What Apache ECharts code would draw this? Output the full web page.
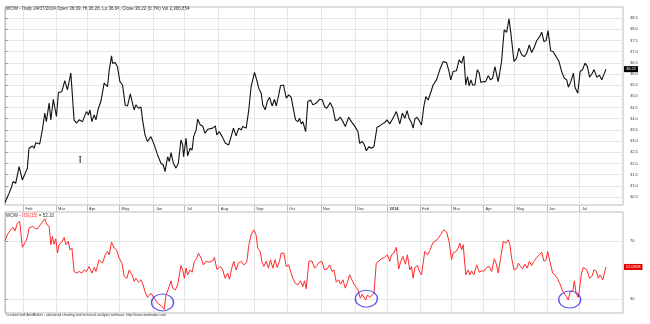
<!DOCTYPE html>
<html><head><meta charset="utf-8">
<script src="https://cdn.jsdelivr.net/npm/echarts@6/dist/echarts.min.js"></script>
<style>html,body{margin:0;padding:0;background:#fff}#c{width:650px;height:324px}</style>
</head><body><div id="c"></div>
<script>
// month starts, in trading days from the first bar
const monthDays = [12,33,53,74,96,116,138,161,182,204,226,247,268,288,309,329,350,371];
const monthLabels = ['Feb','Mar','Apr','May','Jun','Jul','Aug','Sep','Oct','Nov','Dec','2014','Feb','Mar','Apr','May','Jun','Jul'];
const priceTicks = [30.5,31,31.5,32,32.5,33,33.5,34,34.5,35,35.5,36,36.5,37,37.5,38,38.5];
const rsiTicks = [30,70];
// [trading day, close]
const price = [[0,30.25],[2.6,30.66],[4.3,30.96],[5.2,31.19],[6.9,31.11],[9.1,31.86],[11.2,31.26],[14.4,31.78],[15.5,32.68],[17.7,32.78],[18.8,32.68],[19.9,32.93],[22.4,32.87],[24.1,33.5],[25.7,34.25],[26.7,33.87],[28.5,34.7],[29.6,33.95],[31.2,34.87],[33.2,34.1],[34.5,35.17],[36.7,35.21],[38.6,35.71],[40.3,35.29],[41.4,35.21],[42.5,36.04],[44.6,33.95],[46.1,33.8],[47.9,33.95],[50,33.87],[52.6,34.32],[53.9,34.17],[54.8,34.4],[56.1,33.87],[57.6,34.17],[58.7,33.95],[60.3,34.47],[61.9,34.77],[64,35.59],[66.2,35.44],[67.3,36.19],[68.8,36.81],[69.4,36.49],[71.2,36.51],[72.6,36.33],[74.2,35.66],[75.9,35.51],[77.6,34.62],[79.1,34.57],[80.9,35.11],[82.3,34.7],[83.4,34.4],[84.5,34.62],[86.2,34.47],[87.8,34.52],[88.8,33.95],[90.4,33.28],[92,32.98],[94.2,33.2],[96.4,32.83],[98.5,32.38],[100.7,32.01],[102.2,31.93],[103.3,31.63],[105,32.3],[106.1,32.08],[107.2,32.48],[108.7,32.01],[110.4,31.79],[111.9,32.01],[113.6,33.05],[114.7,32.83],[115.3,32.3],[116.9,33.13],[117.9,32.34],[119.5,32.68],[120.8,32.6],[121.8,33.2],[123.4,33.5],[124.4,33.98],[126.1,33.72],[127.6,33.68],[129.2,33.35],[130.9,33.53],[134.1,33.58],[135.8,33.68],[136.7,33.28],[138.4,33.42],[140.2,33.2],[142.3,32.9],[144.4,32.83],[146,33.2],[147.5,33.58],[149.2,33.23],[150.9,33.58],[152.5,33.5],[153.5,33.65],[155.7,33.58],[157.4,34.4],[158.9,35.44],[161.1,36.07],[162.5,35.74],[163.8,35.37],[165.4,35.14],[166.4,34.62],[168,34.4],[169.3,34.77],[170.8,34.96],[172.5,34.57],[174,34.87],[175.1,34.57],[176.6,35.02],[177.9,35.48],[179.8,35.51],[181.6,34.92],[183.2,35.07],[184.8,34.96],[186.3,34.4],[187.6,33.95],[189.1,33.87],[190.2,34.02],[191.3,33.77],[192.3,33.87],[194.1,33.42],[195.5,34.77],[197.3,34.84],[198.8,34.62],[201,34.7],[203.1,34.87],[204.9,34.84],[206.3,34.54],[207.8,34.47],[210,34.72],[211.7,34.47],[213.3,33.92],[215,33.95],[216.5,34.07],[218.2,33.87],[219.7,33.65],[221.9,34.07],[223.6,33.87],[225.7,33.68],[227.9,33.42],[229,32.9],[230.7,32.98],[231.8,32.87],[233.3,32.57],[235,32.75],[236.5,32.68],[238.2,32.75],[240.2,33.62],[241.9,33.68],[243.7,33.77],[245.1,33.83],[246.6,33.95],[248.4,33.77],[250.1,33.98],[251.6,34.17],[252.7,34.32],[254.9,33.77],[256.6,34.25],[258.1,34.02],[259.6,34.36],[260.9,34.02],[262.4,33.83],[263.5,33.58],[264.6,33.98],[266,34.07],[267.1,33.95],[268.9,33.72],[270.4,34.54],[271.7,34.99],[273.2,34.84],[274.7,35.14],[276.4,35.51],[278.6,35.74],[280.7,36.19],[282.9,36.56],[285.1,36.51],[286.7,36.11],[287.8,35.74],[289.3,36.11],[291.5,36.15],[293.2,36.63],[294.8,36.49],[296.2,36.81],[297.5,35.51],[298.6,35.89],[299.7,35.47],[300.8,35.74],[301.9,35.51],[303.4,35.51],[304.9,36.19],[306.2,36.04],[307.2,35.62],[308.7,35.66],[310.3,35.66],[312,35.92],[313.5,35.74],[314.8,35.81],[316.3,36.33],[318.4,35.66],[320.6,36.56],[322.3,37.98],[323.9,37.87],[325.4,38.47],[326.6,37.83],[328.6,36.56],[330.3,36.71],[331.8,37.16],[333.6,36.86],[335.3,36.78],[336.8,36.93],[338.5,37.3],[340,36.96],[341.5,37.16],[343.3,37.5],[345,37.65],[346.5,37.87],[348,37.45],[349.3,37.5],[350.6,37.94],[352.3,37.04],[354,37.0],[355.8,36.78],[357.7,36.56],[359.4,36.11],[361.1,35.81],[362.7,35.74],[363.7,35.41],[365.3,35.66],[367,36.04],[368,35.41],[369.8,35.14],[371.3,36.11],[372.8,36.19],[374.5,36.49],[376,36.33],[377.4,35.86],[378.9,36.0],[380.3,36.2],[382.1,35.85],[383.8,35.95],[385.3,35.74],[388,36.22]];
// [trading day, RSI(15)]
const rsi = [[0,70],[1.5,74.1],[3.7,77.5],[5.2,79.2],[6.5,76.9],[8,82.1],[9.5,83.3],[11.2,65.5],[13.4,69.6],[14.4,72.3],[15.5,78.7],[17.7,79.9],[19.2,78.7],[20.9,78.2],[23.1,81.5],[24.1,81],[25.7,85.1],[27,81],[28.5,79.9],[29.6,67.3],[30.6,73],[31.7,67.7],[32.8,71.4],[33.9,61.6],[34.9,67.3],[36.7,69.1],[38.2,72.3],[39.3,67.3],[40.9,69.6],[41.9,63.8],[43.2,65],[44.6,49],[46.1,47.9],[47.9,49],[49.6,47.9],[51.1,50.1],[52.6,49],[54.3,52.4],[56.1,47.9],[57.6,51.8],[58.7,49],[60.8,57],[62.9,54.7],[64.7,60.4],[66.2,62.7],[67.3,60.4],[68.8,69.1],[70.5,65],[72,63.8],[73.7,58.1],[75.5,54.7],[77,45.6],[78.7,44.4],[80.2,50.1],[82,46.7],[83.4,42.2],[84.5,44.4],[86.2,41.7],[87.8,43.3],[88.8,41],[90.4,35.3],[92,31.2],[94.2,34.1],[96.4,30.7],[98.5,27.3],[100.7,25.7],[102.8,23.2],[103.9,32.6],[105,35.7],[106.1,35.3],[107.2,42.6],[108.2,37.6],[110,36.4],[111.5,39.8],[113.6,53.1],[114.7,50.1],[115.8,44.4],[116.9,51.3],[117.9,46.7],[119.5,50.1],[120.8,48.5],[122.3,55.9],[123.8,58.1],[124.9,61.6],[126.6,58.1],[128.1,53.5],[129.8,55.9],[131.9,55.4],[134.1,56.3],[135.2,58.6],[136.8,50.5],[139.1,52.4],[140.6,50.1],[142.1,44.4],[143.8,47.9],[144.9,43.7],[146.4,51.3],[147.7,55.9],[149.2,50.1],[150.7,54.7],[152.5,55.9],[154.1,53.5],[156.1,55.4],[157.4,66.8],[158.9,74.1],[160.6,77.5],[162.1,74.1],[163.2,65],[164.8,62.7],[165.8,55.9],[167.1,52.4],[168.6,55.9],[170.1,51.3],[171.4,57],[172.9,51.3],[174.4,57],[175.7,51.8],[177.2,55.9],[178.3,61.6],[180,61.6],[181.6,52.4],[183.1,53.5],[184.3,52.4],[185.8,44.4],[187.4,41],[189.1,39.8],[190.8,42.6],[192.3,38.7],[193.4,42.6],[194.5,37.1],[196.2,55.9],[198.1,56.3],[199.9,51.3],[201.6,53.5],[203.1,55.4],[204.6,55.9],[206.3,50.1],[208.1,50.8],[209.6,53.5],[211.1,49],[212.4,50.1],[213.9,41.7],[215.4,43.3],[216.7,40.3],[218.2,43.3],[219.7,37.6],[221.4,42.6],[222.5,46.7],[224,43.3],[225.3,40.3],[226.8,38.1],[227.9,36.4],[229.4,30.7],[230.5,33.4],[231.6,32.5],[232.9,29.5],[234,33],[235.4,31.2],[236.5,32.5],[238.2,34.1],[239.7,54.7],[241.2,55.9],[243,57.7],[245.1,58.6],[246.9,60.4],[248.4,55.9],[249.5,60.4],[251,61.6],[252.7,65.5],[254.2,50.8],[255.5,55.9],[257,59.3],[258.5,54],[259.8,60.4],[261.3,50.1],[262.4,52.4],[263.5,44.4],[264.6,51.8],[266.3,53.1],[267.6,49],[268.9,46.7],[271,62.7],[272.8,60.4],[274.3,63.5],[276.4,69],[279,70.7],[281.2,74.1],[283.4,77.5],[285.1,76],[286.7,69.6],[288.3,57],[289.3,61.6],[291.1,62.7],[292.6,65],[293.7,68.4],[294.8,63.8],[295.8,67.3],[297.5,46.7],[299,50.1],[300.1,46.7],[301.2,49.4],[302.7,46.7],[304.5,53.5],[306.2,48.5],[307.7,49.4],[309.4,49.4],[310.9,51.8],[312.6,52.4],[314.2,49],[315.9,57.7],[317.4,53.5],[318.4,47.9],[320,58.1],[321.7,69.6],[323.4,68.4],[324.9,70.7],[326,67.3],[327.1,58.1],[328.6,50.1],[330.3,50.8],[331.4,54.7],[332.9,52.4],[334.2,50.8],[335.7,54],[337.2,51.3],[338.5,55.9],[340,53.1],[341.5,55.9],[343.3,58.6],[345,60.4],[346.5,62.2],[348,55.9],[349.3,57],[350.4,62.7],[351.9,55.4],[353.6,47.9],[355.1,46.7],[356.6,44.4],[358.4,40.3],[360.1,35.3],[361.6,33.4],[362.7,32.5],[363.7,29.5],[364.8,35.3],[366.6,35.7],[367.6,42.6],[368.7,34.1],[370.2,31.2],[372.2,47.9],[373.4,51.8],[374.5,53.1],[375.6,50.1],[377.4,44.4],[378.9,45.6],[380.3,50.1],[381.6,49.4],[383.1,44.4],[384.2,46.7],[385.9,43.2],[388,52.0958]];
// highlighted RSI lows [trading day, RSI]
const circles = [[101.7,27.8],[233.3,30.4],[364.6,29.8]];

const GRID_COLOR = '#e6e6e6';
const FRAME = '#bdbdbd';
const FONT = 'Arial, Liberation Sans';
const chart = echarts.init(document.getElementById('c'), null, {renderer: 'canvas'});
const lastPrice = price[price.length - 1][1];
const lastRsi = rsi[rsi.length - 1][1];
const fmtMonth = v => {
  const i = monthDays.indexOf(v);
  const t = i >= 0 ? monthLabels[i] : '';
  return t === '2014' ? '{b|2014}' : t;
};
chart.setOption({
  animation: false,
  backgroundColor: '#fff',
  grid: [
    {left: 5, right: 27, top: 7, height: 198, show: true, borderColor: FRAME, borderWidth: 1, backgroundColor: 'transparent'},
    {left: 5, right: 27, top: 212, height: 101, show: true, borderColor: FRAME, borderWidth: 1, backgroundColor: 'transparent'}
  ],
  xAxis: [
    {gridIndex: 0, type: 'value', min: 0, max: 399,
      axisLine: {show: false},
      axisTick: {show: true, customValues: monthDays, length: 7, lineStyle: {color: FRAME}},
      axisLabel: {show: true, customValues: monthDays, formatter: fmtMonth, fontSize: 4, fontFamily: FONT, color: '#333', align: 'left', margin: 2, padding: [0, 0, 0, 2],
        rich: {b: {fontWeight: 'bold', fontSize: 4, fontFamily: FONT, color: '#333'}}},
      splitLine: {show: true, lineStyle: {color: GRID_COLOR, width: 1}}},
    {gridIndex: 1, type: 'value', min: 0, max: 399,
      axisLine: {show: false},
      axisTick: {show: false, customValues: monthDays},
      axisLabel: {show: false, customValues: monthDays},
      splitLine: {show: true, lineStyle: {color: GRID_COLOR, width: 1}}}
  ],
  yAxis: [
    {gridIndex: 0, type: 'value', position: 'right', min: 30.14, max: 39.0,
      axisLine: {show: true, lineStyle: {color: FRAME}},
      axisTick: {show: true, customValues: priceTicks, length: 3, lineStyle: {color: '#999'}},
      axisLabel: {customValues: priceTicks, formatter: v => v.toFixed(1), fontSize: 4, fontFamily: FONT, color: '#333', margin: 7},
      splitLine: {show: true, lineStyle: {color: GRID_COLOR, width: 1}}},
    {gridIndex: 1, type: 'value', position: 'right', min: 20.6, max: 89.7,
      axisLine: {show: true, lineStyle: {color: FRAME}},
      axisTick: {show: true, customValues: rsiTicks, length: 3, lineStyle: {color: '#999'}},
      axisLabel: {customValues: rsiTicks, fontSize: 4, fontFamily: FONT, color: '#333', margin: 7},
      splitLine: {show: true, lineStyle: {color: GRID_COLOR, width: 1}}}
  ],
  series: [
    {type: 'line', xAxisIndex: 0, yAxisIndex: 0, data: price, symbol: 'none', clip: false,
      lineStyle: {color: '#111', width: 1.1},
      markLine: {silent: true, symbol: ['none', 'none'], lineStyle: {color: 'rgba(0,0,0,0)', width: 0, opacity: 1},
        label: {show: true, position: 'end', distance: 1, formatter: () => lastPrice.toFixed(2), backgroundColor: '#000', color: '#fff', opacity: 1, fontSize: 4, fontFamily: FONT, padding: [1, 2]},
        data: [{yAxis: lastPrice}]}},
    {type: 'line', xAxisIndex: 1, yAxisIndex: 1, data: rsi, symbol: 'none', clip: false,
      lineStyle: {color: '#ff2a2a', width: 1},
      markLine: {silent: true, symbol: ['none', 'none'], lineStyle: {color: 'rgba(0,0,0,0)', width: 0, opacity: 1},
        label: {show: true, position: 'end', distance: 1, formatter: () => lastRsi.toFixed(4), backgroundColor: '#e00000', color: '#fff', opacity: 1, fontSize: 4, fontFamily: FONT, padding: [1, 2]},
        data: [{yAxis: lastRsi}]}},
    {type: 'scatter', xAxisIndex: 1, yAxisIndex: 1, data: circles, symbol: 'circle', symbolSize: [22, 17], clip: false,
      itemStyle: {color: 'rgba(0,0,0,0)', borderColor: '#2b2bef', borderWidth: 1.2}, z: 5}
  ],
  graphic: [
    {type: 'text', left: 6, top: 6, style: {text: 'WOW - Daily 24/07/2014 Open 36.09, Hi 36.26, Lo 36.04, Close 36.22 (0.8%) Vol 2,306,854', fontSize: 4.5, fontFamily: FONT, fill: '#333'}},
    {type: 'text', left: 6, top: 213, style: {rich: {a: {fontSize: 4.5, fontFamily: FONT, fill: '#333'}, r: {fontSize: 4.5, fontFamily: FONT, fill: '#ff2a2a'}}, text: '{a|WOW - }{r|RSI(15)}{a| = 52.10}'}},
    {type: 'text', left: 6, top: 313.5, style: {text: 'Created with AmiBroker - advanced charting and technical analysis software. http://www.amibroker.com', fontSize: 3.5, fontFamily: FONT, fill: '#333'}},
    {type: 'text', left: 78, top: 156, style: {text: 'I', fontSize: 11, fontFamily: 'DejaVu Serif', fill: '#444'}}
  ]
});
</script></body></html>
